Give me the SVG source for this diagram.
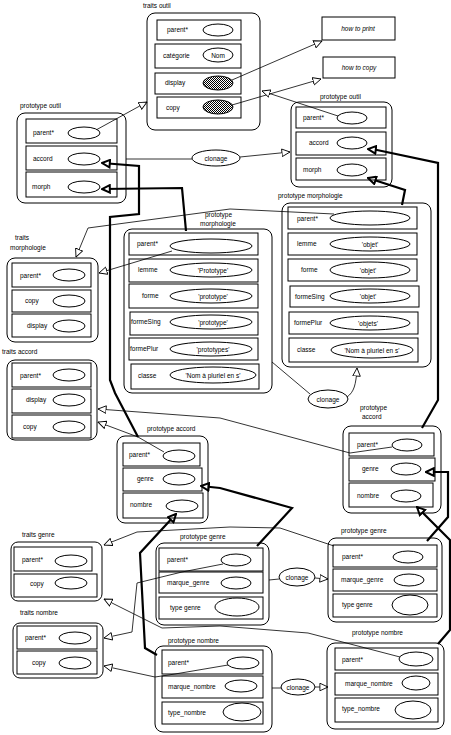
<svg xmlns="http://www.w3.org/2000/svg" width="451" height="735" viewBox="0 0 451 735">
<style>
text{font-family:"Liberation Sans","DejaVu Sans",sans-serif;font-size:6.5px;fill:#000}
.c{text-anchor:middle}
.i{font-style:italic}
.box{fill:none;stroke:#000;stroke-width:1}
.slot{fill:none;stroke:#000;stroke-width:1}
.el{fill:#fff;stroke:#000;stroke-width:1}
.h{fill:url(#hatch);stroke:#000;stroke-width:1}
.thin{fill:none;stroke:#000;stroke-width:0.8;marker-end:url(#a)}
.plain{fill:none;stroke:#000;stroke-width:0.8}
.bold{fill:none;stroke:#000;stroke-width:2.2;marker-end:url(#b)}
</style>
<defs>
<pattern id="hatch" width="2" height="2" patternUnits="userSpaceOnUse"><rect width="2" height="2" fill="#fff"/><rect width="1" height="1" fill="#000"/><rect x="1" y="1" width="1" height="1" fill="#000"/></pattern>
<marker id="a" viewBox="0 0 10 10" refX="9.5" refY="5" markerWidth="9" markerHeight="9" orient="auto" markerUnits="userSpaceOnUse"><path d="M0.5,0.8 L9.5,5 L0.5,9.2 z" fill="#fff" stroke="#000" stroke-width="1"/></marker>
<marker id="b" viewBox="0 0 10 10" refX="9" refY="5" markerWidth="10" markerHeight="10" orient="auto" markerUnits="userSpaceOnUse"><path d="M1.2,1.2 L9,5 L1.2,8.8 z" fill="#fff" stroke="#000" stroke-width="2"/></marker>
</defs>
<rect width="451" height="735" fill="#fff"/>

<g id="connectors">
<path class="thin" d="M232,80 L322,41"/>
<path class="thin" d="M232,105 L321,79"/>
<path class="thin" d="M338,116 L262,91"/>
<path class="thin" d="M96,130 L147,102"/>
<path class="plain" d="M126,159 L192,159"/>
<path class="thin" d="M240,157 L290,152"/>
<path class="thin" d="M334,214 L230,209 L88,228 L76,257"/>
<path class="thin" d="M172,251 L99,273"/>
<path class="plain" d="M272,362 L310,394"/>
<path class="thin" d="M347,397 C354,392 356,385 357,368"/>
<path class="thin" d="M392,447 L350,453 L220,418 L98,409"/>
<path class="thin" d="M164,452 L138,437 L98,422"/>
<path class="thin" d="M334,546 L280,528 L230,527 L137,532 L104,545"/>
<path class="thin" d="M223,564 L182,572 L137,583 L132,632 L104,638"/>
<path class="thin" d="M400,657 L308,633 L220,626 L162,628 L104,599"/>
<path class="thin" d="M228,665 L175,674 L155,677 L104,666"/>
<path class="plain" d="M269,580 L279,579"/>
<path class="thin" d="M315,578 L328,579"/>
<path class="plain" d="M272,688 L281,688"/>
<path class="thin" d="M315,687 L328,687"/>
<path class="bold" d="M138,437 L115,393 L110,380 L110,217 L139,214 L139,166 L102,163"/>
<path class="bold" d="M186,231 L182,188 L102,189"/>
<path class="bold" d="M422,428 L438,400 L438,163 L377,150 L368,149"/>
<path class="bold" d="M402,205 L405,190 L368,178"/>
<path class="bold" d="M257,546 L292,508 L220,488 L201,486"/>
<path class="bold" d="M157,655 L145,648 L140,553 L176,514"/>
<path class="bold" d="M427,541 L448,517 L448,472 L426,472"/>
<path class="bold" d="M438,644 L450,630 L450,540 L417,507"/>
</g>

<g id="traits-outil">
<text x="143" y="8">traits outil</text>
<rect class="box" x="147" y="13" width="113" height="117" rx="8"/>
<rect class="slot" x="157" y="20" width="84" height="20"/><text x="167" y="32">parent*</text><ellipse class="el" cx="218" cy="30" rx="15" ry="6"/>
<rect class="slot" x="155" y="44" width="86" height="24"/><text x="163" y="58">catégorie</text><ellipse class="el" cx="218" cy="55" rx="15" ry="7"/><text class="c" x="218" y="57.5">Nom</text>
<rect class="slot" x="155" y="73" width="86" height="21"/><text x="165" y="85">display</text><ellipse class="h" cx="218" cy="83" rx="15" ry="7"/>
<rect class="slot" x="157" y="97" width="84" height="21"/><text x="166" y="110">copy</text><ellipse class="h" cx="218" cy="107" rx="15" ry="7"/>
</g>

<g id="how-to-print">
<rect class="box" x="322" y="17" width="73" height="23"/><text class="c i" x="358" y="31">how to print</text>
</g>
<g id="how-to-copy">
<rect class="box" x="323" y="57" width="72" height="21"/><text class="c i" x="359" y="70">how to copy</text>
</g>

<g id="prototype-outil-left">
<text x="20" y="108">prototype outil</text>
<rect class="box" x="17" y="113" width="109" height="90" rx="8"/>
<rect class="slot" x="26" y="119" width="91" height="24"/><text x="33" y="135">parent*</text><ellipse class="el" cx="84" cy="133" rx="16" ry="6"/>
<rect class="slot" x="26" y="146" width="91" height="24"/><text x="33" y="161">accord</text><ellipse class="el" cx="84" cy="159" rx="16" ry="6"/>
<rect class="slot" x="26" y="172" width="91" height="25"/><text x="32" y="189">morph</text><ellipse class="el" cx="84" cy="187" rx="16" ry="6"/>
</g>

<g id="prototype-outil-right">
<text x="320" y="99">prototype outil</text>
<rect class="box" x="291" y="102" width="101" height="85" rx="8"/>
<rect class="slot" x="296" y="107" width="90" height="21"/><text x="303" y="120">parent*</text><ellipse class="el" cx="352" cy="118" rx="15" ry="6"/>
<rect class="slot" x="296" y="132" width="90" height="23"/><text x="309" y="145">accord</text><ellipse class="el" cx="352" cy="143" rx="15" ry="6"/>
<rect class="slot" x="296" y="158" width="90" height="22"/><text x="303" y="172">morph</text><ellipse class="el" cx="352" cy="170" rx="15" ry="6"/>
</g>

<g id="clonage-outil">
<ellipse class="el" cx="216" cy="158" rx="24" ry="8"/><text class="c" x="216" y="160.5">clonage</text>
</g>

<g id="prototype-morphologie-left">
<text x="205" y="217">prototype</text>
<text x="200" y="226">morphologie</text>
<rect class="box" x="124" y="229" width="148" height="164" rx="8"/>
<rect class="slot" x="129" y="233" width="129" height="22"/><text x="137" y="246">parent*</text><ellipse class="el" cx="211" cy="246" rx="41" ry="7"/>
<rect class="slot" x="129" y="259" width="129" height="23"/><text x="138" y="272">lemme</text><ellipse class="el" cx="211" cy="270" rx="41" ry="7"/><text class="c" x="213" y="272.5">'Prototype'</text>
<rect class="slot" x="129" y="284" width="129" height="24"/><text x="142" y="298">forme</text><ellipse class="el" cx="211" cy="296" rx="41" ry="7"/><text class="c" x="213" y="298.5">'prototype'</text>
<rect class="slot" x="130" y="312" width="128" height="23"/><text x="131" y="324">formeSing</text><ellipse class="el" cx="211" cy="322" rx="41" ry="7"/><text class="c" x="213" y="324.5">'prototype'</text>
<rect class="slot" x="129" y="338" width="129" height="22"/><text x="130" y="351">formePlur</text><ellipse class="el" cx="211" cy="349" rx="41" ry="7"/><text class="c" x="213" y="351.5">'prototypes'</text>
<rect class="slot" x="131" y="364" width="128" height="25"/><text x="138" y="378">classe</text><ellipse class="el" cx="213" cy="375" rx="43" ry="8"/><text class="c" x="213" y="377.5">'Nom à pluriel en s'</text>
</g>

<g id="prototype-morphologie-right">
<text x="278" y="198">prototype morphologie</text>
<rect class="box" x="282" y="203" width="149" height="164" rx="8"/>
<rect class="slot" x="288" y="207" width="129" height="22"/><text x="297" y="221">parent*</text><ellipse class="el" cx="370" cy="218" rx="40" ry="7"/>
<rect class="slot" x="288" y="233" width="129" height="22"/><text x="297" y="246">lemme</text><ellipse class="el" cx="370" cy="244" rx="40" ry="7"/><text class="c" x="370" y="246.5">'objet'</text>
<rect class="slot" x="288" y="259" width="129" height="22"/><text x="301" y="272">forme</text><ellipse class="el" cx="370" cy="270" rx="40" ry="8"/><text class="c" x="368" y="272.5">'objet'</text>
<rect class="slot" x="290" y="286" width="129" height="21"/><text x="295" y="299">formeSing</text><ellipse class="el" cx="370" cy="296" rx="40" ry="7"/><text class="c" x="368" y="298.5">'objet'</text>
<rect class="slot" x="289" y="312" width="129" height="22"/><text x="294" y="325">formePlur</text><ellipse class="el" cx="370" cy="323" rx="40" ry="7"/><text class="c" x="368" y="325.5">'objets'</text>
<rect class="slot" x="289" y="338" width="129" height="24"/><text x="297" y="352">classe</text><ellipse class="el" cx="372" cy="350" rx="41" ry="8"/><text class="c" x="372" y="352.5">'Nom à pluriel en s'</text>
</g>

<g id="clonage-morphologie">
<ellipse class="el" cx="328" cy="399" rx="20" ry="9"/><text class="c" x="328" y="401.5">clonage</text>
</g>

<g id="traits-morphologie">
<text x="15" y="240">traits</text>
<text x="10" y="250">morphologie</text>
<rect class="box" x="7" y="258" width="91" height="84" rx="8"/>
<rect class="slot" x="12" y="263" width="79" height="24"/><text x="20" y="278">parent*</text><ellipse class="el" cx="69" cy="275" rx="16" ry="6"/>
<rect class="slot" x="12" y="290" width="79" height="22"/><text x="25" y="303">copy</text><ellipse class="el" cx="69" cy="301" rx="16" ry="6"/>
<rect class="slot" x="12" y="314" width="79" height="23"/><text x="27" y="328">display</text><ellipse class="el" cx="69" cy="326" rx="16" ry="6"/>
</g>

<g id="traits-accord">
<text x="2" y="354">traits accord</text>
<rect class="box" x="7" y="360" width="90" height="80" rx="8"/>
<rect class="slot" x="12" y="363" width="79" height="24"/><text x="20" y="378">parent*</text><ellipse class="el" cx="69" cy="375" rx="16" ry="6"/>
<rect class="slot" x="12" y="389" width="79" height="24"/><text x="26" y="402">display</text><ellipse class="el" cx="69" cy="400" rx="16" ry="6"/>
<rect class="slot" x="12" y="415" width="79" height="23"/><text x="23" y="429">copy</text><ellipse class="el" cx="69" cy="427" rx="16" ry="6"/>
</g>

<g id="prototype-accord-center">
<text x="147" y="431">prototype accord</text>
<rect class="box" x="117" y="436" width="91" height="87" rx="8"/>
<rect class="slot" x="123" y="443" width="77" height="23"/><text x="129" y="457">parent*</text><ellipse class="el" cx="179" cy="456" rx="16" ry="6"/>
<rect class="slot" x="123" y="468" width="79" height="23"/><text x="137" y="481">genre</text><ellipse class="el" cx="179" cy="479" rx="16" ry="6"/>
<rect class="slot" x="123" y="493" width="80" height="25"/><text x="130" y="507">nombre</text><ellipse class="el" cx="182" cy="506" rx="16" ry="6"/>
</g>

<g id="prototype-accord-right">
<text x="360" y="410">prototype</text>
<text x="362" y="419">accord</text>
<rect class="box" x="343" y="426" width="98" height="87" rx="8"/>
<rect class="slot" x="349" y="433" width="85" height="23"/><text x="357" y="447">parent*</text><ellipse class="el" cx="407" cy="445" rx="15" ry="6"/>
<rect class="slot" x="349" y="458" width="86" height="23"/><text x="362" y="471">genre</text><ellipse class="el" cx="406" cy="469" rx="15" ry="6"/>
<rect class="slot" x="349" y="483" width="84" height="24"/><text x="357" y="498">nombre</text><ellipse class="el" cx="406" cy="496" rx="15" ry="6"/>
</g>

<g id="prototype-genre-center">
<text x="180" y="539">prototype genre</text>
<rect class="box" x="156" y="543" width="113" height="82" rx="8"/>
<rect class="slot" x="159" y="548" width="104" height="23"/><text x="167" y="562">parent*</text><ellipse class="el" cx="236" cy="560" rx="15" ry="6"/>
<rect class="slot" x="159" y="572" width="104" height="21"/><text x="167" y="585">marque_genre</text><ellipse class="el" cx="236" cy="583" rx="15" ry="6"/>
<rect class="slot" x="159" y="597" width="104" height="22"/><text x="170" y="610">type genre</text><ellipse class="el" cx="237" cy="607" rx="22" ry="9"/>
</g>

<g id="clonage-genre">
<ellipse class="el" cx="297" cy="577" rx="18" ry="9"/><text class="c" x="297" y="579.5">clonage</text>
</g>

<g id="prototype-genre-right">
<text x="341" y="533">prototype genre</text>
<rect class="box" x="328" y="538" width="114" height="84" rx="8"/>
<rect class="slot" x="333" y="545" width="104" height="22"/><text x="342" y="559">parent*</text><ellipse class="el" cx="408" cy="557" rx="15" ry="6"/>
<rect class="slot" x="333" y="569" width="104" height="22"/><text x="341" y="582">marque_genre</text><ellipse class="el" cx="409" cy="580" rx="15" ry="6"/>
<rect class="slot" x="333" y="594" width="104" height="23"/><text x="342" y="607">type genre</text><ellipse class="el" cx="410" cy="605" rx="18" ry="10"/>
</g>

<g id="traits-genre">
<text x="22" y="537">traits genre</text>
<rect class="box" x="11" y="542" width="91" height="59" rx="7"/>
<rect class="slot" x="14" y="547" width="78" height="24"/><text x="22" y="562">parent*</text><ellipse class="el" cx="71" cy="561" rx="16" ry="6"/>
<rect class="slot" x="14" y="574" width="83" height="23"/><text x="30" y="586">copy</text><ellipse class="el" cx="71" cy="583" rx="16" ry="6"/>
</g>

<g id="traits-nombre">
<text x="20" y="615">traits nombre</text>
<rect class="box" x="13" y="623" width="90" height="55" rx="7"/>
<rect class="slot" x="17" y="626" width="80" height="23"/><text x="25" y="640">parent*</text><ellipse class="el" cx="75" cy="638" rx="16" ry="6"/>
<rect class="slot" x="17" y="651" width="80" height="23"/><text x="32" y="665">copy</text><ellipse class="el" cx="75" cy="663" rx="16" ry="6"/>
</g>

<g id="prototype-nombre-center">
<text x="168" y="643">prototype nombre</text>
<rect class="box" x="155" y="646" width="117" height="86" rx="8"/>
<rect class="slot" x="162" y="650" width="101" height="24"/><text x="168" y="665">parent*</text><ellipse class="el" cx="243" cy="663" rx="16" ry="6"/>
<rect class="slot" x="162" y="676" width="101" height="22"/><text x="168" y="689">marque_nombre</text><ellipse class="el" cx="241" cy="686" rx="16" ry="6"/>
<rect class="slot" x="162" y="702" width="101" height="22"/><text x="168" y="715">type_nombre</text><ellipse class="el" cx="242" cy="712" rx="19" ry="9"/>
</g>

<g id="clonage-nombre">
<ellipse class="el" cx="298" cy="687" rx="17" ry="8"/><text class="c" x="298" y="689.5">clonage</text>
</g>

<g id="prototype-nombre-right">
<text x="352" y="635">prototype nombre</text>
<rect class="box" x="327" y="643" width="117" height="86" rx="8"/>
<rect class="slot" x="335" y="648" width="103" height="22"/><text x="342" y="662">parent*</text><ellipse class="el" cx="416" cy="659" rx="17" ry="7"/>
<rect class="slot" x="335" y="673" width="103" height="22"/><text x="345" y="686">marque_nombre</text><ellipse class="el" cx="416" cy="683" rx="14" ry="7"/>
<rect class="slot" x="335" y="698" width="103" height="24"/><text x="342" y="711">type_nombre</text><ellipse class="el" cx="413" cy="710" rx="18" ry="9"/>
</g>
</svg>
